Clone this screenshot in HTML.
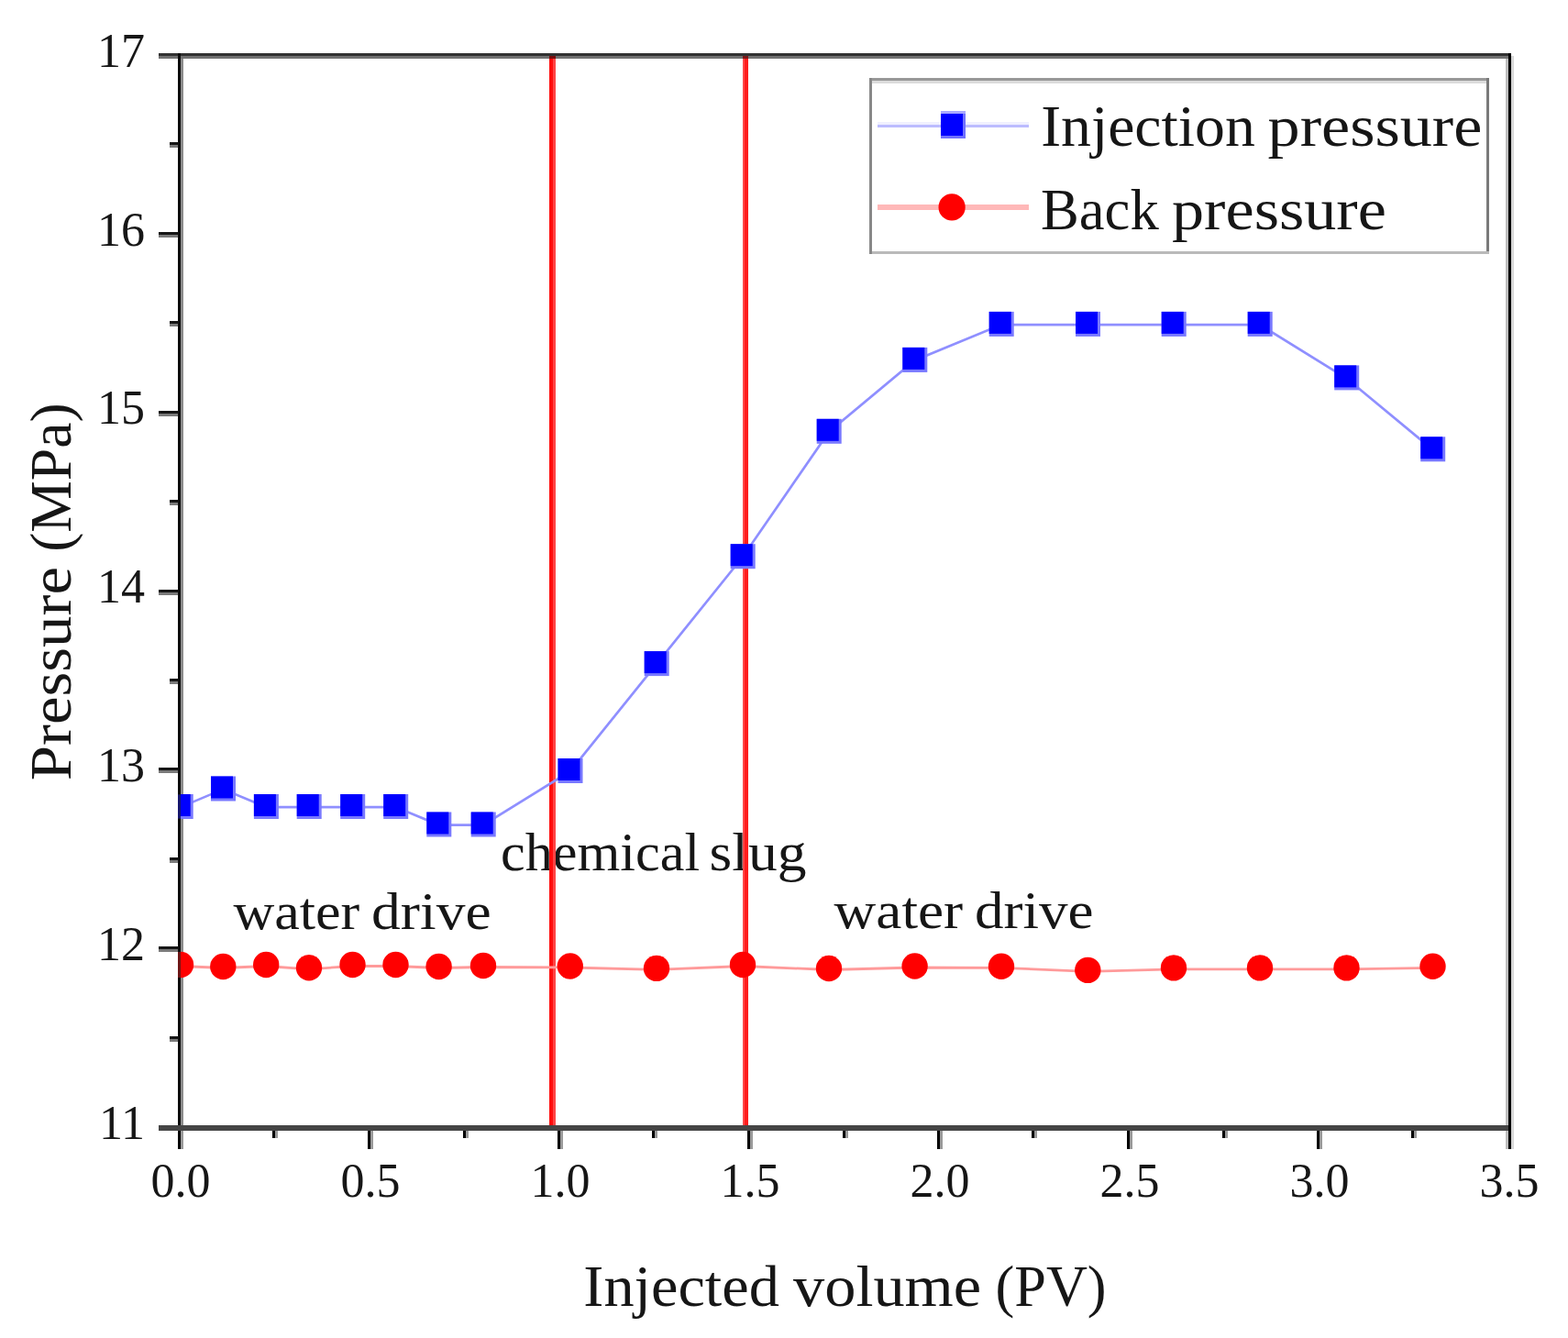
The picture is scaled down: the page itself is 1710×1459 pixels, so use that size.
<!DOCTYPE html>
<html><head><meta charset="utf-8"><title>Pressure chart</title>
<style>html,body{margin:0;padding:0;background:#fff;}body{width:1710px;height:1459px;overflow:hidden;}svg{display:block;}</style>
</head><body>
<svg width="1710" height="1459" viewBox="0 0 1710 1459">
<defs><clipPath id="pc"><rect x="197" y="61" width="1448" height="1166"/></clipPath><filter id="soft" x="0" y="0" width="100%" height="100%" filterUnits="userSpaceOnUse"><feGaussianBlur stdDeviation="0.7"/></filter></defs>
<rect width="1710" height="1459" fill="#fff"/>
<g filter="url(#soft)">
<g shape-rendering="crispEdges">
<rect x="173" y="58" width="1475" height="3" fill="#333"/>
<rect x="173" y="61" width="1475" height="3" fill="#717171"/>
<rect x="194" y="58" width="3" height="1175" fill="#111"/>
<rect x="197" y="64" width="3" height="1163" fill="#8c8c8c"/>
<rect x="1642" y="64" width="3" height="1163" fill="#bdbdbd"/>
<rect x="1645" y="58" width="3" height="1175" fill="#000"/>
<rect x="1648" y="61" width="3" height="1192" fill="#d8d8d8"/>
<rect x="173" y="1227" width="1472" height="6" fill="#454545"/>
<rect x="185" y="1130" width="9" height="3" fill="#161616"/>
<rect x="185" y="1133" width="9" height="3" fill="#7a7a7a"/>
<rect x="173" y="1032" width="21" height="3" fill="#161616"/>
<rect x="173" y="1035" width="21" height="3" fill="#7a7a7a"/>
<rect x="185" y="935" width="9" height="3" fill="#161616"/>
<rect x="185" y="938" width="9" height="3" fill="#7a7a7a"/>
<rect x="173" y="837" width="21" height="3" fill="#161616"/>
<rect x="173" y="840" width="21" height="3" fill="#7a7a7a"/>
<rect x="185" y="740" width="9" height="3" fill="#161616"/>
<rect x="185" y="743" width="9" height="3" fill="#7a7a7a"/>
<rect x="173" y="643" width="21" height="3" fill="#161616"/>
<rect x="173" y="646" width="21" height="3" fill="#7a7a7a"/>
<rect x="185" y="545" width="9" height="3" fill="#161616"/>
<rect x="185" y="548" width="9" height="3" fill="#7a7a7a"/>
<rect x="173" y="448" width="21" height="3" fill="#161616"/>
<rect x="173" y="451" width="21" height="3" fill="#7a7a7a"/>
<rect x="185" y="350" width="9" height="3" fill="#161616"/>
<rect x="185" y="353" width="9" height="3" fill="#7a7a7a"/>
<rect x="173" y="253" width="21" height="3" fill="#161616"/>
<rect x="173" y="256" width="21" height="3" fill="#7a7a7a"/>
<rect x="185" y="155" width="9" height="3" fill="#161616"/>
<rect x="185" y="158" width="9" height="3" fill="#7a7a7a"/>
<rect x="1642" y="1233" width="3" height="20" fill="#bdbdbd"/>
<rect x="1645" y="1233" width="3" height="20" fill="#000"/>
<rect x="1648" y="1233" width="3" height="20" fill="#d8d8d8"/>
<rect x="194" y="1233" width="3" height="20" fill="#000"/>
<rect x="197" y="1233" width="3" height="20" fill="#9a9a9a"/>
<rect x="297" y="1233" width="3" height="8" fill="#000"/>
<rect x="300" y="1233" width="3" height="8" fill="#9a9a9a"/>
<rect x="401" y="1233" width="3" height="20" fill="#000"/>
<rect x="404" y="1233" width="3" height="20" fill="#9a9a9a"/>
<rect x="505" y="1233" width="3" height="8" fill="#000"/>
<rect x="508" y="1233" width="3" height="8" fill="#9a9a9a"/>
<rect x="608" y="1233" width="3" height="20" fill="#000"/>
<rect x="611" y="1233" width="3" height="20" fill="#9a9a9a"/>
<rect x="711" y="1233" width="3" height="8" fill="#000"/>
<rect x="714" y="1233" width="3" height="8" fill="#9a9a9a"/>
<rect x="815" y="1233" width="3" height="20" fill="#000"/>
<rect x="818" y="1233" width="3" height="20" fill="#9a9a9a"/>
<rect x="919" y="1233" width="3" height="8" fill="#000"/>
<rect x="922" y="1233" width="3" height="8" fill="#9a9a9a"/>
<rect x="1022" y="1233" width="3" height="20" fill="#000"/>
<rect x="1025" y="1233" width="3" height="20" fill="#9a9a9a"/>
<rect x="1125" y="1233" width="3" height="8" fill="#000"/>
<rect x="1128" y="1233" width="3" height="8" fill="#9a9a9a"/>
<rect x="1229" y="1233" width="3" height="20" fill="#000"/>
<rect x="1232" y="1233" width="3" height="20" fill="#9a9a9a"/>
<rect x="1333" y="1233" width="3" height="8" fill="#000"/>
<rect x="1336" y="1233" width="3" height="8" fill="#9a9a9a"/>
<rect x="1436" y="1233" width="3" height="20" fill="#000"/>
<rect x="1439" y="1233" width="3" height="20" fill="#9a9a9a"/>
<rect x="1539" y="1233" width="3" height="8" fill="#000"/>
<rect x="1542" y="1233" width="3" height="8" fill="#9a9a9a"/>
</g>
<text x="546.0" y="949.3" font-family="'Liberation Serif', serif" font-size="60" textLength="217.2" lengthAdjust="spacingAndGlyphs" fill="#161616" >chemical</text>
<text x="773.6" y="949.3" font-family="'Liberation Serif', serif" font-size="60" textLength="105.9" lengthAdjust="spacingAndGlyphs" fill="#161616" >slug</text>
<text x="254.4" y="1012.6" font-family="'Liberation Serif', serif" font-size="56" textLength="137.9" lengthAdjust="spacingAndGlyphs" fill="#161616" >water</text>
<text x="405.1" y="1012.6" font-family="'Liberation Serif', serif" font-size="56" textLength="130.5" lengthAdjust="spacingAndGlyphs" fill="#161616" >drive</text>
<text x="909.6" y="1012.4" font-family="'Liberation Serif', serif" font-size="56" textLength="140.6" lengthAdjust="spacingAndGlyphs" fill="#161616" >water</text>
<text x="1063.0" y="1012.4" font-family="'Liberation Serif', serif" font-size="56" textLength="129.6" lengthAdjust="spacingAndGlyphs" fill="#161616" >drive</text>
<g shape-rendering="crispEdges">
<rect x="599" y="61" width="4" height="1166" fill="#ff0c0c"/>
<rect x="603" y="61" width="3" height="1166" fill="#ff4444"/>
<rect x="599" y="61" width="7" height="3" fill="#7a0a0a"/>
<rect x="810" y="61" width="2" height="1166" fill="#ff4a4a"/>
<rect x="812" y="61" width="4" height="1166" fill="#ff1e1e"/>
<rect x="810" y="61" width="6" height="3" fill="#7a1414"/>
</g>
<g clip-path="url(#pc)">
<polyline points="197.0,880.1 243.3,860.6 290.2,880.1 337.0,880.1 384.5,880.1 431.5,880.1 478.6,899.6 527.0,899.6 621.8,841.1 716.0,724.2 810.0,607.3 904.0,470.9 997.6,393.0 1092.0,354.1 1186.3,354.1 1280.0,354.1 1374.0,354.1 1468.5,412.5 1562.5,490.4" fill="none" stroke="#8f8fff" stroke-width="2.7"/>
<polyline points="197.0,1053.5 243.3,1055.5 290.2,1053.5 337.0,1056.8 384.5,1053.5 431.5,1053.5 478.6,1055.5 527.0,1054.5 621.8,1055.0 716.0,1057.4 810.0,1053.5 904.0,1057.5 997.6,1055.0 1092.0,1055.3 1186.3,1059.4 1280.0,1056.9 1374.0,1056.9 1468.5,1056.9 1562.5,1055.3" fill="none" stroke="#ff9a9a" stroke-width="2.8"/>
<rect x="183.7" y="866.0" width="27" height="27" fill="#7878ff"/>
<rect x="183.7" y="866.0" width="24" height="24" fill="#0000ff"/>
<rect x="230.0" y="846.5" width="27" height="27" fill="#7878ff"/>
<rect x="230.0" y="846.5" width="24" height="24" fill="#0000ff"/>
<rect x="276.9" y="866.0" width="27" height="27" fill="#7878ff"/>
<rect x="276.9" y="866.0" width="24" height="24" fill="#0000ff"/>
<rect x="323.7" y="866.0" width="27" height="27" fill="#7878ff"/>
<rect x="323.7" y="866.0" width="24" height="24" fill="#0000ff"/>
<rect x="371.2" y="866.0" width="27" height="27" fill="#7878ff"/>
<rect x="371.2" y="866.0" width="24" height="24" fill="#0000ff"/>
<rect x="418.2" y="866.0" width="27" height="27" fill="#7878ff"/>
<rect x="418.2" y="866.0" width="24" height="24" fill="#0000ff"/>
<rect x="465.3" y="885.5" width="27" height="27" fill="#7878ff"/>
<rect x="465.3" y="885.5" width="24" height="24" fill="#0000ff"/>
<rect x="513.7" y="885.5" width="27" height="27" fill="#7878ff"/>
<rect x="513.7" y="885.5" width="24" height="24" fill="#0000ff"/>
<rect x="608.5" y="827.0" width="27" height="27" fill="#7878ff"/>
<rect x="608.5" y="827.0" width="24" height="24" fill="#0000ff"/>
<rect x="702.7" y="710.1" width="27" height="27" fill="#7878ff"/>
<rect x="702.7" y="710.1" width="24" height="24" fill="#0000ff"/>
<rect x="796.7" y="593.2" width="27" height="27" fill="#7878ff"/>
<rect x="796.7" y="593.2" width="24" height="24" fill="#0000ff"/>
<rect x="890.7" y="456.8" width="27" height="27" fill="#7878ff"/>
<rect x="890.7" y="456.8" width="24" height="24" fill="#0000ff"/>
<rect x="984.3" y="378.9" width="27" height="27" fill="#7878ff"/>
<rect x="984.3" y="378.9" width="24" height="24" fill="#0000ff"/>
<rect x="1078.7" y="339.9" width="27" height="27" fill="#7878ff"/>
<rect x="1078.7" y="339.9" width="24" height="24" fill="#0000ff"/>
<rect x="1173.0" y="339.9" width="27" height="27" fill="#7878ff"/>
<rect x="1173.0" y="339.9" width="24" height="24" fill="#0000ff"/>
<rect x="1266.7" y="339.9" width="27" height="27" fill="#7878ff"/>
<rect x="1266.7" y="339.9" width="24" height="24" fill="#0000ff"/>
<rect x="1360.7" y="339.9" width="27" height="27" fill="#7878ff"/>
<rect x="1360.7" y="339.9" width="24" height="24" fill="#0000ff"/>
<rect x="1455.2" y="398.4" width="27" height="27" fill="#7878ff"/>
<rect x="1455.2" y="398.4" width="24" height="24" fill="#0000ff"/>
<rect x="1549.2" y="476.3" width="27" height="27" fill="#7878ff"/>
<rect x="1549.2" y="476.3" width="24" height="24" fill="#0000ff"/>
<circle cx="197.0" cy="1052.0" r="14.2" fill="#ff0000"/>
<circle cx="243.3" cy="1054.0" r="14.2" fill="#ff0000"/>
<circle cx="290.2" cy="1052.0" r="14.2" fill="#ff0000"/>
<circle cx="337.0" cy="1055.3" r="14.2" fill="#ff0000"/>
<circle cx="384.5" cy="1052.0" r="14.2" fill="#ff0000"/>
<circle cx="431.5" cy="1052.0" r="14.2" fill="#ff0000"/>
<circle cx="478.6" cy="1054.0" r="14.2" fill="#ff0000"/>
<circle cx="527.0" cy="1053.0" r="14.2" fill="#ff0000"/>
<circle cx="621.8" cy="1053.5" r="14.2" fill="#ff0000"/>
<circle cx="716.0" cy="1055.9" r="14.2" fill="#ff0000"/>
<circle cx="810.0" cy="1052.0" r="14.2" fill="#ff0000"/>
<circle cx="904.0" cy="1056.0" r="14.2" fill="#ff0000"/>
<circle cx="997.6" cy="1053.5" r="14.2" fill="#ff0000"/>
<circle cx="1092.0" cy="1053.8" r="14.2" fill="#ff0000"/>
<circle cx="1186.3" cy="1057.9" r="14.2" fill="#ff0000"/>
<circle cx="1280.0" cy="1055.4" r="14.2" fill="#ff0000"/>
<circle cx="1374.0" cy="1055.4" r="14.2" fill="#ff0000"/>
<circle cx="1468.5" cy="1055.4" r="14.2" fill="#ff0000"/>
<circle cx="1562.5" cy="1053.8" r="14.2" fill="#ff0000"/>
</g>
<rect x="194" y="866.5" width="3" height="26" fill="#141470"/>
<rect x="194" y="1038.0" width="3" height="28" fill="#701414"/>
<text x="158" y="1241.7" font-family="'Liberation Serif', serif" font-size="52" text-anchor="end" fill="#161616">11</text>
<text x="158" y="1046.9" font-family="'Liberation Serif', serif" font-size="52" text-anchor="end" fill="#161616">12</text>
<text x="158" y="852.0" font-family="'Liberation Serif', serif" font-size="52" text-anchor="end" fill="#161616">13</text>
<text x="158" y="657.2" font-family="'Liberation Serif', serif" font-size="52" text-anchor="end" fill="#161616">14</text>
<text x="158" y="462.4" font-family="'Liberation Serif', serif" font-size="52" text-anchor="end" fill="#161616">15</text>
<text x="158" y="267.5" font-family="'Liberation Serif', serif" font-size="52" text-anchor="end" fill="#161616">16</text>
<text x="158" y="72.7" font-family="'Liberation Serif', serif" font-size="52" text-anchor="end" fill="#161616">17</text>
<text x="197.0" y="1304.5" font-family="'Liberation Serif', serif" font-size="52" text-anchor="middle" fill="#161616">0.0</text>
<text x="404.0" y="1304.5" font-family="'Liberation Serif', serif" font-size="52" text-anchor="middle" fill="#161616">0.5</text>
<text x="611.0" y="1304.5" font-family="'Liberation Serif', serif" font-size="52" text-anchor="middle" fill="#161616">1.0</text>
<text x="818.0" y="1304.5" font-family="'Liberation Serif', serif" font-size="52" text-anchor="middle" fill="#161616">1.5</text>
<text x="1025.0" y="1304.5" font-family="'Liberation Serif', serif" font-size="52" text-anchor="middle" fill="#161616">2.0</text>
<text x="1232.0" y="1304.5" font-family="'Liberation Serif', serif" font-size="52" text-anchor="middle" fill="#161616">2.5</text>
<text x="1439.0" y="1304.5" font-family="'Liberation Serif', serif" font-size="52" text-anchor="middle" fill="#161616">3.0</text>
<text x="1646.0" y="1304.5" font-family="'Liberation Serif', serif" font-size="52" text-anchor="middle" fill="#161616">3.5</text>
<g shape-rendering="crispEdges">
<rect x="948" y="85" width="676" height="192" fill="#fff"/>
<rect x="948" y="85" width="676" height="3" fill="#989898"/>
<rect x="951" y="88" width="670" height="3" fill="#dcdcdc"/>
<rect x="948" y="274" width="676" height="3" fill="#bababa"/>
<rect x="948" y="85" width="3" height="192" fill="#888"/>
<rect x="1621" y="85" width="3" height="189" fill="#7a7a7a"/>
<rect x="957" y="133" width="165" height="3" fill="#f0f0ff"/>
<rect x="957" y="136" width="165" height="3" fill="#bcbcff"/>
<rect x="957" y="223" width="165" height="6" fill="#ffb8b8"/>
<rect x="1026" y="121" width="27" height="3" fill="#a8a8ff"/>
<rect x="1026" y="124" width="24" height="24" fill="#0000ff"/>
<rect x="1050" y="124" width="3" height="24" fill="#7070ff"/>
<rect x="1026" y="148" width="27" height="3" fill="#7070ff"/>
</g>
<circle cx="1038.1" cy="225.9" r="14.6" fill="#ff0000"/>
<text x="1135.2" y="159.3" font-family="'Liberation Serif', serif" font-size="64" textLength="233.6" lengthAdjust="spacingAndGlyphs" fill="#161616" >Injection</text>
<text x="1382.6" y="159.3" font-family="'Liberation Serif', serif" font-size="64" textLength="233.7" lengthAdjust="spacingAndGlyphs" fill="#161616" >pressure</text>
<text x="1135.0" y="249.6" font-family="'Liberation Serif', serif" font-size="64" textLength="128.7" lengthAdjust="spacingAndGlyphs" fill="#161616" >Back</text>
<text x="1278.0" y="249.6" font-family="'Liberation Serif', serif" font-size="64" textLength="233.9" lengthAdjust="spacingAndGlyphs" fill="#161616" >pressure</text>
<text x="636.3" y="1424.0" font-family="'Liberation Serif', serif" font-size="64" textLength="213.6" lengthAdjust="spacingAndGlyphs" fill="#161616" >Injected</text>
<text x="865.0" y="1424.0" font-family="'Liberation Serif', serif" font-size="64" textLength="205.1" lengthAdjust="spacingAndGlyphs" fill="#161616" >volume</text>
<text x="1085.6" y="1424.0" font-family="'Liberation Serif', serif" font-size="64" textLength="121.0" lengthAdjust="spacingAndGlyphs" fill="#161616" >(PV)</text>
<g transform="translate(77,850) rotate(-90)"><text x="-1.2" y="0" font-family="'Liberation Serif', serif" font-size="64" textLength="233.1" lengthAdjust="spacingAndGlyphs" fill="#161616" >Pressure</text><text x="248.2" y="0" font-family="'Liberation Serif', serif" font-size="64" textLength="162.4" lengthAdjust="spacingAndGlyphs" fill="#161616" >(MPa)</text></g>
</g>
</svg>
</body></html>
